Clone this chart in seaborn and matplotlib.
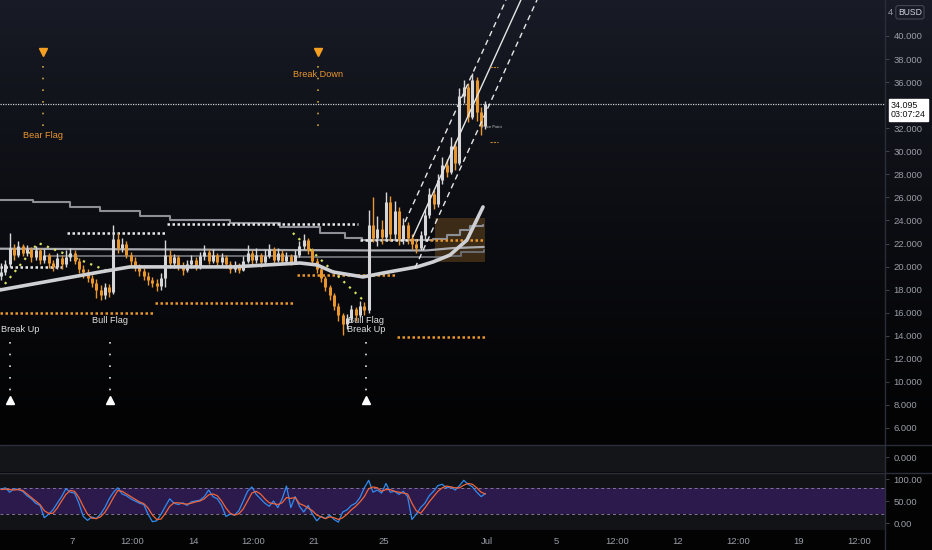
import numpy as np
import matplotlib
matplotlib.use("Agg")
import matplotlib.pyplot as plt
import matplotlib.transforms as mtransforms
import seaborn as sns

# ---------------- data ----------------
# 6h bars, x in days of June (Jul 1 = 31)
bar_days = 2.9 + 0.25 * np.arange(113)
first_open = 19.2
closes = [19.5, 20.2, 21.6, 21.0, 21.8, 21.2, 21.5, 20.8, 21.4, 20.6,
          21.0, 20.3, 20.0, 20.7, 20.2, 20.8, 21.2, 20.5, 19.8, 19.5,
          19.0, 18.6, 18.0, 17.5, 18.2, 17.8, 22.4, 21.6, 22.0, 21.0,
          20.5, 20.0, 19.6, 19.2, 18.8, 18.6, 18.3, 19.0, 21.0, 20.3,
          20.8, 20.1, 19.7, 20.2, 20.6, 20.0, 20.9, 21.3, 20.5, 21.0,
          20.4, 20.8, 20.2, 19.8, 20.1, 19.7, 20.5, 21.2, 20.6, 21.0,
          20.4, 20.9, 21.5, 20.6, 21.2, 20.5, 20.9, 20.4, 21.0, 21.8,
          22.3, 21.4, 20.5, 19.8, 19.0, 18.2, 17.5, 16.6, 15.8, 15.0,
          15.5, 16.3, 15.8, 16.6, 16.2, 23.6, 22.5, 23.3, 22.6, 25.6,
          22.8, 24.8, 22.4, 23.6, 22.5, 22.0, 21.6, 22.7, 24.5, 26.3,
          25.4, 27.5, 28.8, 28.2, 30.5, 29.0, 34.8, 35.6, 33.0, 36.2,
          33.4, 32.2, 34.1]
highs = [20.3, 20.6, 22.9, 22.0, 22.2, 22.0, 21.9, 21.7, 21.8, 21.6,
         21.5, 21.2, 20.6, 21.2, 21.0, 21.4, 21.6, 21.4, 20.7, 20.1,
         19.8, 19.3, 18.9, 18.4, 18.6, 18.5, 23.6, 22.9, 22.5, 22.2,
         21.3, 20.8, 20.2, 19.9, 19.5, 19.1, 18.9, 19.4, 22.3, 21.4,
         21.1, 21.0, 20.4, 20.6, 21.0, 20.8, 21.3, 21.9, 21.5, 21.5,
         21.2, 21.2, 21.0, 20.5, 20.5, 20.3, 20.9, 21.9, 21.4, 21.6,
         21.2, 21.5, 22.0, 21.7, 21.6, 21.4, 21.3, 21.1, 21.4, 22.2,
         22.8, 22.5, 21.6, 20.7, 20.0, 19.2, 18.4, 17.7, 16.8, 16.0,
         15.9, 16.7, 16.5, 17.0, 16.9, 24.9, 26.0, 24.4, 24.0, 26.5,
         26.1, 25.7, 25.2, 24.2, 23.9, 22.8, 22.4, 23.1, 25.0, 26.8,
         26.6, 28.0, 29.5, 29.3, 31.2, 30.9, 35.5, 36.2, 35.9, 36.8,
         36.4, 33.8, 34.4]
lows = [18.8, 19.3, 20.0, 20.6, 20.8, 20.9, 20.9, 20.4, 20.6, 20.2,
        20.3, 19.9, 19.6, 19.8, 19.8, 20.0, 20.5, 20.2, 19.4, 19.0,
        18.7, 18.2, 17.3, 17.1, 17.2, 17.4, 17.6, 21.2, 21.3, 20.7,
        20.1, 19.6, 19.2, 18.8, 18.4, 18.2, 17.9, 18.0, 18.2, 19.9,
        19.9, 19.7, 19.3, 19.5, 19.9, 19.7, 19.8, 20.6, 20.2, 20.3,
        20.0, 20.1, 19.9, 19.4, 19.5, 19.4, 19.6, 20.3, 20.2, 20.3,
        20.0, 20.2, 20.7, 20.3, 20.4, 20.2, 20.3, 20.1, 20.2, 20.8,
        21.5, 21.1, 20.2, 19.4, 18.7, 17.9, 17.1, 16.2, 15.3, 14.1,
        14.6, 15.2, 15.3, 15.6, 15.8, 16.0, 22.1, 21.8, 22.0, 22.3,
        22.2, 22.4, 21.9, 22.0, 22.0, 21.5, 21.2, 21.4, 22.4, 24.2,
        25.0, 25.2, 27.2, 27.8, 28.0, 28.4, 28.8, 34.2, 32.5, 32.8,
        32.6, 31.4, 31.9]

# stochastic rsi (blue = K, orange = D)
rsi_k = [77, 80, 70, 78, 76, 72, 62, 55, 45, 40, 12, 20, 30, 45, 60, 78, 70, 68, 45, 15,
         6, 14, 10, 20, 35, 55, 70, 80, 66, 62, 55, 50, 45, 42, 20, 3, 5, 20, 38, 55,
         45, 42, 46, 40, 48, 50, 52, 60, 75, 60, 55, 40, 15, 20, 18, 28, 50, 72, 82, 65,
         55, 45, 38, 50, 35, 55, 84, 35, 60, 38, 25, 40, 20, 5, 15, 10, 18, 8, 2, 25,
         30, 40, 45, 58, 80, 97, 70, 75, 68, 90, 70, 72, 65, 72, 60, 8, 20, 35, 45, 62,
         72, 85, 88, 80, 82, 75, 85, 97, 88, 82, 70, 60, 67]
rsi_d = [76, 77, 76, 75, 76, 74, 66, 58, 50, 42, 28, 22, 22, 34, 50, 65, 74, 72, 58, 38,
         20, 11, 10, 14, 24, 40, 58, 74, 72, 66, 60, 54, 48, 44, 34, 18, 8, 9, 22, 38,
         46, 46, 44, 43, 45, 48, 50, 55, 64, 66, 62, 50, 34, 22, 18, 21, 32, 50, 68, 72,
         66, 55, 46, 44, 42, 46, 58, 56, 58, 44, 40, 34, 28, 18, 14, 10, 14, 12, 8, 12,
         20, 30, 38, 48, 60, 78, 82, 80, 72, 76, 76, 72, 70, 68, 66, 45, 28, 22, 34, 48,
         60, 72, 80, 84, 82, 80, 80, 86, 90, 88, 80, 70, 66]

# moving averages / overlay lines
ma_slow_days = [2.84, 4.75, 6.89, 8.62, 10.93, 12.67, 16.13, 19.03, 21.34, 22.78, 23.76, 27.87, 28.68, 29.43, 30.01, 30.76]
ma_slow_vals = [25.8, 25.6, 25.2, 24.8, 24.4, 24.0, 23.8, 23.4, 22.9, 22.5, 22.3, 22.4, 22.7, 23.2, 23.5, 23.6]
ma_mid_days = [2.84, 10.0, 17.0, 24.0, 27.5, 29.0, 30.8]
ma_mid_vals = [21.55, 21.5, 21.45, 21.4, 21.4, 21.6, 21.7]
ma_low_days = [5.5, 12.0, 20.0, 26.0, 28.6, 29.5, 30.8]
ma_low_vals = [20.9, 20.9, 20.85, 20.8, 20.9, 21.3, 21.4]
ema_days = [2.84, 8.62, 10.35, 12.49, 16.31, 20.18, 21.16, 22.09, 23.82, 24.98, 26.94, 27.87, 28.85, 29.83, 30.76]
ema_vals = [17.97, 19.53, 19.97, 19.97, 19.97, 20.31, 20.14, 19.53, 19.1, 19.44, 19.97, 20.4, 21.0, 22.3, 25.17]

trend1_days = [2.84, 5.04, 9.2]
trend1_vals = [17.97, 22.05, 19.53]
trend2_days = [19.77, 23.82]
trend2_vals = [22.91, 17.1]

# (start day, end day, price)
white_levels = [(2.84, 6.6, 20.0), (6.71, 12.49, 22.9), (12.49, 23.53, 23.7), (23.65, 27.7, 22.3)]
orange_levels = [(2.84, 11.8, 16.0), (11.8, 19.9, 16.85), (20.0, 25.8, 19.3), (25.8, 30.9, 13.9), (27.7, 30.9, 22.3)]

channel_days = [26.71, 32.95]
channel_vals = [22.57, 43.12]
channel_up_days = [26.25, 32.09]
channel_up_vals = [23.87, 43.12]
channel_dn_days = [26.83, 33.88]
channel_dn_vals = [19.88, 43.12]

last_price = 34.095
price_ticks = [6, 8, 10, 12, 14, 16, 18, 20, 22, 24, 26, 28, 30, 32, 36, 38, 40]
bear_signals = [(5.33, "Bear Flag", 31.33), (21.2, "Break Down", 36.7)]
bull_signals = [(3.42, ["Break Up"]), (9.2, ["Bull Flag"]), (24.0, ["Bull Flag", "Break Up"])]

xtick_days = [7, 10.5, 14, 17.5, 21, 25, 31, 35, 38.5, 42, 45.5, 49, 52.5]
xtick_labels = ["7", "12:00", "14", "12:00", "21", "25", "Jul", "5", "12:00", "12", "12:00", "19", "12:00"]

# ---------------- style ----------------
W, H = 932, 550
UP = "#d6d6d8"
DOWN = "#e8962e"
TXT = "#9a9da6"
SEP = "#2a2e39"

sns.set_theme(style="dark", rc={"axes.facecolor": "none", "figure.facecolor": "black",
                                "axes.grid": False, "xtick.color": TXT, "ytick.color": TXT})
plt.rcParams["font.family"] = ["Liberation Sans", "DejaVu Sans"]


def box(l, t, r, b):
    return [l / W, 1 - b / H, (r - l) / W, (b - t) / H]


fig = plt.figure(figsize=(W / 100, H / 100), dpi=100)

# background gradient
bg = fig.add_axes([0, 0, 1, 1], zorder=-5)
bg.set_axis_off()
t = np.clip(np.arange(H) / 420.0, 0, 1) ** 0.8
top = np.array([25, 28, 39]) / 255
bot = np.array([3, 3, 4]) / 255
img = top[None, :] * (1 - t[:, None]) + bot[None, :] * t[:, None]
bg.imshow(img[:, None, :], aspect="auto", extent=[0, 1, 0, 1])

xmin, xmax = 2.84, 2.84 + 885 / 17.3

# ---------------- main pane ----------------
ax = fig.add_axes(box(0, 0, 885, 444))
ax.set_xlim(xmin, xmax)
ax.set_ylim(4.61, 43.12)
for s in ax.spines.values():
    s.set_visible(False)
ax.set_xticks([])
ax.yaxis.tick_right()
ax.set_yticks(price_ticks)
ax.set_yticklabels([f"{v:.3f}" for v in price_ticks])
ax.tick_params(axis="y", length=3, width=0.6, color="#4a4e58", pad=3, labelsize=6.8, labelcolor=TXT)

# orange box
ax.add_patch(plt.Rectangle((27.98, 20.4), 2.9, 3.82, color="#7a5320", alpha=0.45, lw=0, zorder=1))

# moving averages
sns.lineplot(x=ma_slow_days, y=ma_slow_vals, ax=ax, color="#8d8f96", lw=1.5, sort=False,
             drawstyle="steps-post", zorder=2)
sns.lineplot(x=ma_mid_days, y=ma_mid_vals, ax=ax, color="#a9abb1", lw=1.6, sort=False, zorder=2)
sns.lineplot(x=ma_low_days, y=ma_low_vals, ax=ax, color="#6f7178", lw=1.3, sort=False,
             drawstyle="steps-post", zorder=2)

# level lines
for d0, d1, p in white_levels:
    ax.hlines(p, d0, d1, colors="#e8e8e8", lw=1.8, linestyles=(0, (1, 1)), zorder=3)
for d0, d1, p in orange_levels:
    ax.hlines(p, d0, d1, colors="#e8962e", lw=1.8, linestyles=(0, (1, 1)), zorder=3)

# trend lines (dotted yellow)
ax.plot(trend1_days, trend1_vals, color="#d8e060", lw=1.6, ls=(0, (1, 2.5)), zorder=3)
ax.plot(trend2_days, trend2_vals, color="#d8e060", lw=1.6, ls=(0, (1, 2.5)), zorder=3)

# bars
opens = [first_open] + closes[:-1]
up = np.array(closes) >= np.array(opens)
bar_colors = np.where(up, UP, DOWN)
ax.vlines(bar_days, lows, highs, colors=bar_colors, lw=1.0, zorder=4)
ax.vlines(bar_days, np.minimum(opens, closes), np.maximum(opens, closes), colors=bar_colors, lw=2.2, zorder=4)

# ema
sns.lineplot(x=ema_days, y=ema_vals, ax=ax, color="#cfd0d4", lw=2.6, sort=False, zorder=5)

# channel
ax.plot(channel_days, channel_vals, color="#e6e6e6", lw=1.0, zorder=5)
ax.plot(channel_up_days, channel_up_vals, color="#e6e6e6", lw=1.0, ls=(0, (4, 3)), zorder=5)
ax.plot(channel_dn_days, channel_dn_vals, color="#e6e6e6", lw=1.0, ls=(0, (4, 3)), zorder=5)

# small marks near the last bar
ax.hlines([37.3, 30.8], 31.17, 31.6, colors="#c08030", lw=0.8, linestyles=(0, (2, 1)), zorder=5)
ax.text(30.72, 32.1, "Price Point", fontsize=3, color="#cccccc", va="center", zorder=6)

# last price
ax.axhline(last_price, color="#d0d0d0", lw=0.9, ls=(0, (1, 1)), zorder=3)
trans = mtransforms.blended_transform_factory(ax.transAxes, ax.transData)
ax.text(1 + 6 / 885, last_price - 0.55, "34.095\n03:07:24", transform=trans, fontsize=6.4, color="#111111",
        va="center", ha="left", linespacing=1.0, clip_on=False, zorder=10,
        bbox=dict(boxstyle="square,pad=0.22", fc="white", ec="white"))
ax.text(1 + 3 / 885, 42.05, "4", transform=trans, fontsize=6.8, color=TXT, va="center",
        ha="left", clip_on=False, zorder=9)
ax.text(1 + 13 / 885, 42.05, "BUSD", transform=trans, fontsize=6.2, color="#d1d4dc", va="center",
        ha="left", clip_on=False, zorder=10,
        bbox=dict(boxstyle="round,pad=0.25", fc="#181b25", ec="#50535e", lw=0.6))

# signals
for d, label, ty in bear_signals:
    ax.plot([d], [38.6], marker="v", ms=5.5, color="#f5a020", ls="none", zorder=6)
    ax.plot([d, d], [37.4, 31.9], color="#c8a040", lw=1.2, ls=(0, (1, 6)), zorder=3)
    ax.text(d, ty, label, fontsize=6.6, color="#e8962e", ha="center", va="center", zorder=6)
for d, labels in bull_signals:
    ax.plot([d], [8.43], marker="^", ms=5.5, color="white", ls="none", zorder=6)
    ax.plot([d, d], [13.5, 9.1], color="#e0e0e0", lw=1.2, ls=(0, (1, 6)), zorder=3)
    if len(labels) == 2:
        ax.text(d, 15.28, labels[0], fontsize=6.6, color="#e0e0e0", ha="center", va="center", zorder=6)
        ax.text(d, 14.5, labels[1], fontsize=6.6, color="#e0e0e0", ha="center", va="center", zorder=6)
    elif labels[0] == "Break Up":
        # the leftmost label sits against the pane edge
        ax.text(xmin + 0.03, 14.5, labels[0], fontsize=6.6, color="#e0e0e0", ha="left", va="center", zorder=6)
    else:
        ax.text(d, 15.28, labels[0], fontsize=6.6, color="#e0e0e0", ha="center", va="center", zorder=6)

# ---------------- empty pane ----------------
ax2 = fig.add_axes(box(0, 446, 885, 472))
ax2.set_facecolor("#141519")
ax2.set_xlim(xmin, xmax)
ax2.set_ylim(-1.3, 1)
for s in ax2.spines.values():
    s.set_visible(False)
ax2.set_xticks([])
ax2.yaxis.tick_right()
ax2.set_yticks([0])
ax2.set_yticklabels(["0.000"])
ax2.tick_params(axis="y", length=3, width=0.6, color="#4a4e58", pad=3, labelsize=6.8, labelcolor=TXT)

# ---------------- stoch rsi pane ----------------
ax3 = fig.add_axes(box(0, 474, 885, 530))
ax3.set_facecolor("#121316")
ax3.set_xlim(xmin, xmax)
ax3.set_ylim(-15.9, 111.4)
for s in ax3.spines.values():
    s.set_visible(False)
ax3.axhspan(20, 80, color="#2d1a4c", lw=0, zorder=0)
ax3.axhline(80, color="#80769a", lw=0.7, ls=(0, (3, 3)), zorder=1)
ax3.axhline(20, color="#80769a", lw=0.7, ls=(0, (3, 3)), zorder=1)
sns.lineplot(x=bar_days, y=rsi_d, ax=ax3, color="#f0643a", lw=0.9, zorder=3)
sns.lineplot(x=bar_days, y=rsi_k, ax=ax3, color="#2f8cf0", lw=0.9, zorder=2)
ax3.yaxis.tick_right()
ax3.set_yticks([0, 50, 100])
ax3.set_yticklabels(["0.00", "50.00", "100.00"])
ax3.tick_params(axis="y", length=3, width=0.6, color="#4a4e58", pad=3, labelsize=6.8, labelcolor=TXT)
ax3.set_xticks(xtick_days)
ax3.set_xticklabels(xtick_labels)
ax3.tick_params(axis="x", length=0, pad=5, labelsize=6.8, labelcolor=TXT)
ax3.set_xlabel("")
ax3.set_ylabel("")

# pane separators
fig.add_artist(plt.Line2D([885 / W, 885 / W], [0, 1], color=SEP, lw=1))
for yy in (445, 473):
    fig.add_artist(plt.Line2D([0, 1], [1 - yy / H, 1 - yy / H], color=SEP, lw=1))

fig.savefig("out.png", dpi=100, facecolor=fig.get_facecolor())
